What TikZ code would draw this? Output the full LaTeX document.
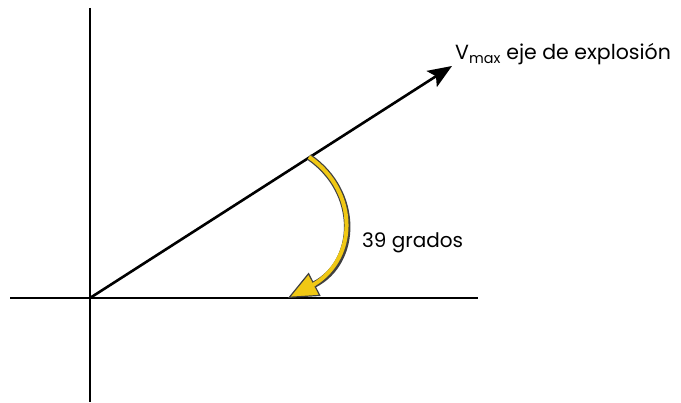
\documentclass[tikz,border=0pt]{standalone}
\usepackage{fontspec}
\setmainfont{Poppins}
\usetikzlibrary{arrows.meta}
\definecolor{arcgold}{RGB}{240,200,20}

\begin{document}
\begin{tikzpicture}[x=1pt, y=-1pt,
  axis/.style={line width=1.6pt},
  vec/.style={line width=2.6pt, -{Stealth[length=24pt, width=19pt, inset=5pt]}},
  arcout/.style={line width=6.5pt, black!75,
                 -{Triangle[length=30pt, width=26pt, line width=1.2pt, fill=arcgold]}},
  arcin/.style={line width=4pt, arcgold, shorten >=24pt},
  lbl/.style={font=\fontsize{20.5}{23}\selectfont, inner sep=0pt}]
  \useasboundingbox (0,0) rectangle (681,403);
  \coordinate (O) at (90,298);
  \coordinate (ytop) at (90,8);
  \coordinate (ybot) at (90,402);
  \coordinate (xleft) at (10,298);
  \coordinate (xright) at (478,298);
  \coordinate (vtip) at (452,66);
  \coordinate (astart) at (309,157);
  \coordinate (aend) at (288,298);
  \draw[axis] (ytop) -- (ybot);
  \draw[axis] (xleft) -- (xright);
  \draw[vec] (O) -- (vtip);
  \node[lbl, anchor=base west] (vlabel) at (455,60) {V\textsubscript{max} eje de explosión};
  \node[lbl, anchor=base west, font=\fontsize{20}{23}\selectfont] (grados) at (362,248) {39 grados};
  \draw[arcout] (astart) .. controls (360,192) and (358,262) .. (aend);
  \draw[arcin] (astart) .. controls (360,192) and (358,262) .. (aend);
\end{tikzpicture}
\end{document}
